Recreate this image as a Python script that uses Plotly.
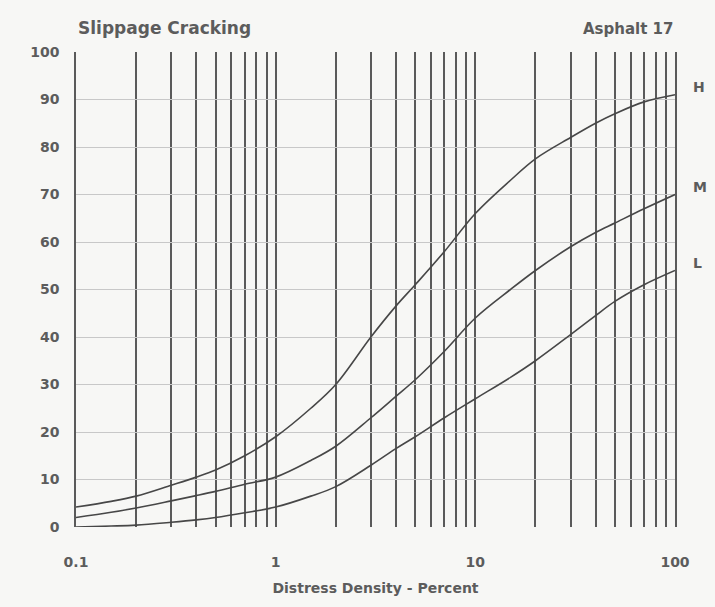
import plotly.graph_objects as go

x_vals = [0.1, 0.15, 0.2, 0.3, 0.4, 0.5, 0.7, 1, 1.5, 2, 3, 4, 5, 7, 10, 15, 20, 30, 40, 50, 70, 100]
h_vals = [4.2, 5.4, 6.5, 8.8, 10.5, 12, 15, 19, 25, 30, 40, 46.5, 51, 58, 66, 73, 77.5, 82, 85, 87, 89.5, 91]
m_vals = [2, 3.1, 4, 5.5, 6.6, 7.5, 9, 10.5, 14, 17, 23, 27.5, 31, 37, 44, 50, 54, 59, 62, 64, 67, 70]
l_vals = [0, 0.2, 0.4, 1, 1.5, 2, 3, 4.2, 6.5, 8.5, 13, 16.5, 19, 23, 27, 31.5, 35, 40.5, 44.5, 47.5, 51, 54]
series_names = ["H", "M", "L"]

x_ticks = [round(d * m, 3) for d in (0.1, 1, 10) for m in range(1, 10)] + [100]
label_map = {0.1: "0.1", 1: "1", 10: "10", 100: "100"}
x_ticktext = [label_map.get(v, "") for v in x_ticks]
y_ticks = list(range(0, 101, 10))

ink = "#5c5c5c"
fam = "DejaVu Sans"
fig = go.Figure()
for name, ys in zip(series_names, [h_vals, m_vals, l_vals]):
    fig.add_trace(go.Scatter(x=x_vals, y=ys, mode="lines",
                             line=dict(color="#474747", width=1.6, shape="spline", smoothing=1.0),
                             name=name, showlegend=False))
    fig.add_annotation(x=2.0, y=ys[-1], xref="x", yref="y", text=name, showarrow=False,
                       xanchor="left", xshift=16, yshift=8,
                       font=dict(size=14, color=ink, family=fam, weight="bold"))

fig.update_layout(
    width=715, height=607,
    margin=dict(l=76, r=40, t=52, b=80),
    paper_bgcolor="#f7f7f5", plot_bgcolor="#f7f7f5",
    font=dict(family=fam, color=ink, size=13),
    xaxis=dict(type="log", range=[-1, 2], tickvals=x_ticks, ticktext=x_ticktext,
               showgrid=True, gridcolor="#5a5a5a", gridwidth=1.5, zeroline=False,
               showline=False, ticks="outside", ticklen=22, tickcolor="rgba(0,0,0,0)",
               title=dict(text="Distress Density - Percent", standoff=14,
                          font=dict(size=14, color=ink, family=fam, weight="bold")),
               tickfont=dict(size=14, color=ink, family=fam, weight="bold")),
    yaxis=dict(range=[0, 100], tickvals=y_ticks, showgrid=True, gridcolor="#c8c8c8", gridwidth=1,
               zeroline=False, showline=True, mirror=True, linecolor="#5a5a5a", linewidth=1.5,
               ticks="outside", ticklen=12, tickcolor="rgba(0,0,0,0)",
               tickfont=dict(size=14, color=ink, family=fam, weight="bold")),
    annotations=list(fig.layout.annotations) + [
        dict(text="Slippage Cracking", x=0, y=1, xref="paper", yref="paper", xanchor="left", yanchor="bottom",
             yshift=12, showarrow=False, font=dict(size=17, color=ink, family=fam, weight="bold")),
        dict(text="Asphalt 17", x=1, y=1, xref="paper", yref="paper", xanchor="right", yanchor="bottom",
             yshift=12, showarrow=False, font=dict(size=15, color=ink, family=fam, weight="bold")),
    ],
)

fig.write_html("out.html")
